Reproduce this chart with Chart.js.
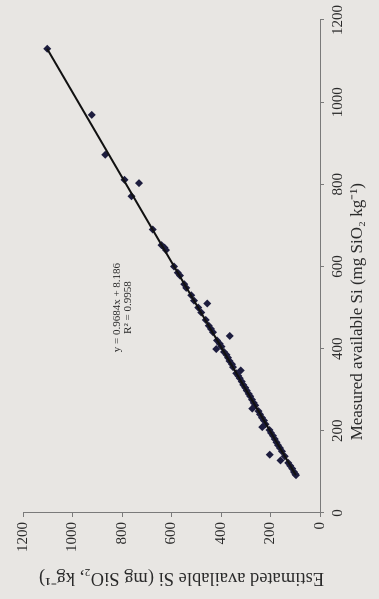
<!DOCTYPE html>
<html><head><meta charset="utf-8">
<script src="https://cdn.jsdelivr.net/npm/chart.js@4"></script>
<style>
html,body{margin:0;padding:0;background:#e8e6e3;overflow:hidden;width:379px;height:599px}
#wrap{position:absolute;left:0;top:0;width:599px;height:379px;transform-origin:0 0;transform:translate(0,599px) rotate(-90deg);}
</style></head><body>
<div id="wrap"><canvas id="c" width="599" height="379"></canvas></div>
<script>
const measuredX = [1130, 969, 872, 811, 803, 771, 690, 652, 646, 640, 600, 585, 578, 557, 548, 530, 517, 510, 500, 488, 470, 456, 448, 440, 431, 420, 412, 405, 399, 392, 385, 378, 370, 362, 355, 347, 340, 334, 328, 320, 312, 305, 298, 290, 284, 276, 268, 262, 254, 248, 240, 232, 225, 216, 209, 202, 195, 188, 180, 172, 165, 158, 150, 142, 138, 128, 122, 115, 108, 100, 95, 92];
const estimatedY = [1102, 922, 868, 790, 731, 762, 676, 640, 628, 622, 590, 575, 566, 548, 540, 520, 509, 456, 492, 480, 462, 450, 440, 432, 365, 416, 405, 398, 419, 388, 378, 372, 366, 356, 352, 320, 338, 330, 324, 316, 310, 302, 296, 288, 282, 275, 268, 262, 274, 248, 242, 234, 226, 220, 233, 204, 198, 190, 183, 176, 170, 162, 154, 203, 142, 160, 128, 120, 112, 105, 100, 97];
const trendX = [92, 1130];
const trendY = [97.3, 1102.5];
const xTicks = [0, 200, 400, 600, 800, 1000, 1200];
const yTicks = [0, 200, 400, 600, 800, 1000, 1200];
const xTitle = 'Measured available Si (mg SiO\u2082 kg\u207B\u00B9)';
const yTitle = 'Estimated available Si (mg SiO\u2082, kg\u207B\u00B9)';
const eqLines = ['y = 0.9684x + 8.186', 'R\u00B2 = 0.9958'];

const serif = '"Liberation Serif", "Times New Roman", serif';
const textColor = '#2a2a2a';
const points = measuredX.map((v, i) => ({x: v, y: estimatedY[i]}));
const trend = trendX.map((v, i) => ({x: v, y: trendY[i]}));

const textPlugin = {
  id: 'texts',
  afterDatasetsDraw(chart) {
    const {ctx, scales: {x, y}} = chart;
    ctx.save();
    ctx.fillStyle = textColor;
    ctx.textAlign = 'center';
    ctx.textBaseline = 'middle';
    // trendline equation
    ctx.font = '11px ' + serif;
    const cx = x.getPixelForValue(500);
    const cy = y.getPixelForValue(820);
    eqLines.forEach((t, i) => ctx.fillText(t, cx, cy + i * 11));
    // x axis title (below the x axis)
    ctx.font = '17px ' + serif;
    ctx.fillText(xTitle, x.getPixelForValue(490), x.bottom - 21);
    // y axis title (left of the y axis, rotated)
    ctx.save();
    ctx.translate(y.left + 21, y.getPixelForValue(560));
    ctx.rotate(-Math.PI / 2);
    ctx.font = '18.5px ' + serif;
    ctx.fillText(yTitle, 0, 0);
    ctx.restore();
    ctx.restore();
  }
};

const axisCommon = (ticksArr, fitFn) => ({
  type: 'linear',
  min: 0, max: 1200,
  afterBuildTicks: s => { s.ticks = ticksArr.map(v => ({value: v})); },
  afterFit: fitFn,
  grid: {drawOnChartArea: false, drawTicks: true, tickLength: 4, color: '#7a7a7a'},
  border: {display: true, color: '#7a7a7a', width: 1},
  ticks: {font: {family: serif, size: 15}, color: textColor, maxRotation: 0, autoSkip: false, padding: 5, callback: v => String(v)},
  title: {display: false}
});

new Chart(document.getElementById('c'), {
  type: 'scatter',
  data: {
    datasets: [
      {data: points, pointStyle: 'rectRot', pointRadius: 4, pointBackgroundColor: '#1d1d3e', pointBorderColor: '#1d1d3e', pointBorderWidth: 0, showLine: false, order: 2},
      {type: 'line', data: trend, borderColor: '#111', borderWidth: 2, pointRadius: 0, fill: false, order: 1}
    ]
  },
  options: {
    responsive: false,
    animation: false,
    devicePixelRatio: 1,
    layout: {padding: {left: 0, right: 18, top: 23, bottom: 0}},
    plugins: {legend: {display: false}, tooltip: {enabled: false}},
    scales: {
      x: Object.assign(axisCommon(xTicks, s => { s.height = 59; }), {position: 'bottom'}),
      y: Object.assign(axisCommon(yTicks, s => { s.width = 86; }), {position: 'left'})
    }
  },
  plugins: [textPlugin]
});
</script>
</body></html>
